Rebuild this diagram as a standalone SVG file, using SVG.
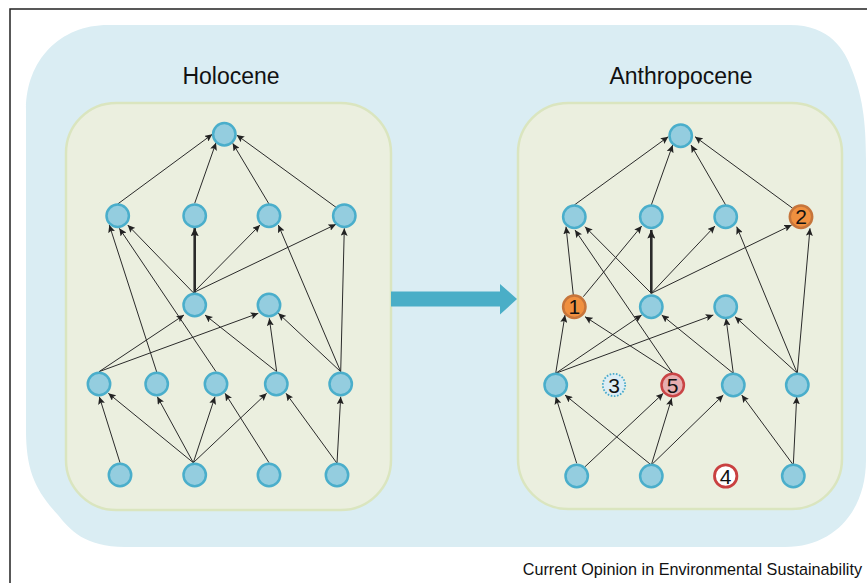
<svg xmlns="http://www.w3.org/2000/svg" width="867" height="583" viewBox="0 0 867 583">
<defs>
<marker id="ah" markerUnits="userSpaceOnUse" markerWidth="8" markerHeight="7" refX="7.5" refY="3.5" orient="auto">
<path d="M0,0 L7.5,3.5 L0,7 L1.5,3.5 Z" fill="#222"/>
</marker>
<marker id="ahb" markerUnits="userSpaceOnUse" markerWidth="9" markerHeight="8" refX="8.5" refY="4" orient="auto">
<path d="M0,0 L8.5,4 L0,8 L1.5,4 Z" fill="#222"/>
</marker>
</defs>
<style>
.frame{fill:none;stroke:#222;stroke-width:1.5}
.blob{fill:#daedf3}
.panel{fill:#ebefdf;stroke:#dae5bf;stroke-width:2.5}
.n{fill:#94cddf;stroke:#4aaecb;stroke-width:2.5}
.org{fill:#f0903f;stroke:#c6753b;stroke-width:2.5}
.pink{fill:#e6aeb0;stroke:#c94445;stroke-width:2.5}
.wht{fill:#ffffff;stroke:#c94040;stroke-width:2.8}
.dot{fill:#dcedf4;stroke:#49aacb;stroke-width:1.8;stroke-dasharray:1.6 1.6}
.lbl{font-family:"Liberation Sans",Arial,sans-serif;font-size:21px;fill:#111;text-anchor:middle}
.title{font-family:"Liberation Sans",Arial,sans-serif;font-size:23px;fill:#111;text-anchor:middle}
.foot{font-family:"Liberation Sans",Arial,sans-serif;font-size:16.2px;fill:#111;text-anchor:end}
#edges line{stroke:#2a2a2a;stroke-width:1;marker-end:url(#ah)}
#edges line.thick{stroke-width:2.6;marker-end:url(#ahb)}
</style>
<path class="frame" d="M867,9 H10 V583"/>
<path class="blob" d="M108,25 H790 C830,25 845,50 852,70 C862,95 866,120 866,160 V460 C866,510 835,547 785,547 H125 C85,547 70,530 58,515 C35,490 26,470 26,430 V110 C26,60 60,25 108,25 Z"/>
<rect class="panel" x="66" y="103" width="325" height="407" rx="50"/>
<rect class="panel" x="518" y="103" width="324" height="406" rx="50"/>
<polygon points="391,291.5 500,291.5 500,284 517,299 500,314.5 500,306.5 391,306.5" fill="#4aaec7"/>
<text class="title" x="231" y="84.3">Holocene</text>
<text class="title" x="681" y="84.3">Anthropocene</text>
<text class="foot" x="862" y="575">Current Opinion in Environmental Sustainability</text>
<g id="edges">
<line x1="117.7" y1="204" x2="212.3" y2="134.3"/>
<line x1="194.7" y1="203.3" x2="216" y2="142.7"/>
<line x1="269" y1="204" x2="232.7" y2="143.3"/>
<line x1="336" y1="207.3" x2="236.7" y2="135"/>
<line x1="156.7" y1="372" x2="109.3" y2="225"/>
<line x1="216" y1="371.7" x2="119.3" y2="228.3"/>
<line x1="193.3" y1="292.7" x2="127.7" y2="225"/>
<line class="thick" x1="194.7" y1="292.7" x2="194.7" y2="227.7"/>
<line x1="193.3" y1="292.7" x2="260" y2="225"/>
<line x1="340.7" y1="371.7" x2="278.3" y2="225"/>
<line x1="193.3" y1="292.7" x2="336" y2="224.3"/>
<line x1="340.7" y1="371.7" x2="344.3" y2="228.3"/>
<line x1="99" y1="371.7" x2="184" y2="315"/>
<line x1="276.7" y1="371.7" x2="205" y2="315"/>
<line x1="99" y1="371.7" x2="258.3" y2="313.3"/>
<line x1="276.7" y1="371.7" x2="269.3" y2="318.3"/>
<line x1="340.7" y1="371.7" x2="278.3" y2="313.3"/>
<line x1="120" y1="462.7" x2="99.3" y2="396.7"/>
<line x1="193.3" y1="462.7" x2="108.3" y2="393.3"/>
<line x1="193.3" y1="462.7" x2="157.3" y2="396.7"/>
<line x1="193.3" y1="462.7" x2="215" y2="396.7"/>
<line x1="269" y1="462.7" x2="225" y2="393.3"/>
<line x1="193.3" y1="462.7" x2="266.7" y2="393.3"/>
<line x1="337" y1="463.3" x2="286" y2="393.3"/>
<line x1="337" y1="463.3" x2="340.7" y2="396.7"/>
<line x1="574.3" y1="205" x2="668.3" y2="136.7"/>
<line x1="651.3" y1="205" x2="672.7" y2="145"/>
<line x1="725.7" y1="205" x2="691" y2="145"/>
<line x1="792.7" y1="208.3" x2="695" y2="136.7"/>
<line x1="573.3" y1="295" x2="566" y2="226.7"/>
<line x1="672.7" y1="373.3" x2="575" y2="230"/>
<line x1="651.3" y1="293.3" x2="585" y2="226.7"/>
<line x1="583.3" y1="296.7" x2="641.7" y2="226"/>
<line class="thick" x1="651.3" y1="293.3" x2="651.3" y2="230"/>
<line x1="651.3" y1="293.3" x2="715" y2="226"/>
<line x1="797.3" y1="373.3" x2="736.7" y2="226.7"/>
<line x1="651.3" y1="293.3" x2="791.7" y2="225"/>
<line x1="797.3" y1="373.3" x2="810" y2="228.3"/>
<line x1="555.7" y1="373.3" x2="565" y2="315"/>
<line x1="672.7" y1="373.3" x2="585" y2="316.7"/>
<line x1="555.7" y1="373.3" x2="641.7" y2="315"/>
<line x1="733.3" y1="373.3" x2="661.7" y2="315"/>
<line x1="555.7" y1="373.3" x2="713.3" y2="315"/>
<line x1="733.3" y1="373.3" x2="726" y2="318.3"/>
<line x1="797.3" y1="373.3" x2="735" y2="316.7"/>
<line x1="576.7" y1="463.3" x2="555.7" y2="396.7"/>
<line x1="651.3" y1="465" x2="565" y2="395"/>
<line x1="585" y1="466.7" x2="663.3" y2="393.3"/>
<line x1="651.3" y1="465" x2="671.7" y2="398.3"/>
<line x1="651.3" y1="465" x2="723.3" y2="395"/>
<line x1="793.3" y1="465" x2="741.7" y2="395"/>
<line x1="793.3" y1="465" x2="796.7" y2="396.7"/>
</g>
<g id="L-top"><circle class="n" cx="224.3" cy="134.3" r="11.2"/></g>
<g id="L-r2a"><circle class="n" cx="117.7" cy="215.7" r="11.2"/></g>
<g id="L-r2b"><circle class="n" cx="194.7" cy="215.7" r="11.2"/></g>
<g id="L-r2c"><circle class="n" cx="269" cy="215.7" r="11.2"/></g>
<g id="L-r2d"><circle class="n" cx="344.3" cy="215.7" r="11.2"/></g>
<g id="L-r3a"><circle class="n" cx="194.7" cy="305" r="11.2"/></g>
<g id="L-r3b"><circle class="n" cx="269" cy="305" r="11.2"/></g>
<g id="L-r4a"><circle class="n" cx="99" cy="384" r="11.2"/></g>
<g id="L-r4b"><circle class="n" cx="156.7" cy="384" r="11.2"/></g>
<g id="L-r4c"><circle class="n" cx="216" cy="384" r="11.2"/></g>
<g id="L-r4d"><circle class="n" cx="276.3" cy="384" r="11.2"/></g>
<g id="L-r4e"><circle class="n" cx="340.7" cy="384" r="11.2"/></g>
<g id="L-r5a"><circle class="n" cx="120" cy="475" r="11.2"/></g>
<g id="L-r5b"><circle class="n" cx="194.7" cy="475" r="11.2"/></g>
<g id="L-r5c"><circle class="n" cx="269" cy="475" r="11.2"/></g>
<g id="L-r5d"><circle class="n" cx="337" cy="475" r="11.2"/></g>
<g id="R-top"><circle class="n" cx="680.7" cy="135.7" r="11.2"/></g>
<g id="R-r2a"><circle class="n" cx="574.3" cy="216.7" r="11.2"/></g>
<g id="R-r2b"><circle class="n" cx="651.3" cy="216.7" r="11.2"/></g>
<g id="R-r2c"><circle class="n" cx="725.7" cy="216.7" r="11.2"/></g>
<g id="R-n2"><circle class="org" cx="801" cy="216.7" r="11.2"/><text class="lbl" x="801" y="224.2">2</text></g>
<g id="R-n1"><circle class="org" cx="574.3" cy="306.7" r="11.2"/><text class="lbl" x="574.3" y="314.2">1</text></g>
<g id="R-r3b"><circle class="n" cx="651.3" cy="306.7" r="11.2"/></g>
<g id="R-r3c"><circle class="n" cx="725.7" cy="306.7" r="11.2"/></g>
<g id="R-r4a"><circle class="n" cx="555.7" cy="385" r="11.2"/></g>
<g id="R-n3"><circle class="dot" cx="614" cy="385" r="11.2"/><text class="lbl" x="614" y="392.5">3</text></g>
<g id="R-n5"><circle class="pink" cx="672.7" cy="385" r="11.2"/><text class="lbl" x="672.7" y="392.5">5</text></g>
<g id="R-r4d"><circle class="n" cx="733.3" cy="385" r="11.2"/></g>
<g id="R-r4e"><circle class="n" cx="797.3" cy="385" r="11.2"/></g>
<g id="R-r5a"><circle class="n" cx="576.7" cy="476" r="11.2"/></g>
<g id="R-r5b"><circle class="n" cx="651.3" cy="476" r="11.2"/></g>
<g id="R-n4"><circle class="wht" cx="725.7" cy="476" r="11.2"/><text class="lbl" x="725.7" y="483.5">4</text></g>
<g id="R-r5d"><circle class="n" cx="793.3" cy="476" r="11.2"/></g>
</svg>
